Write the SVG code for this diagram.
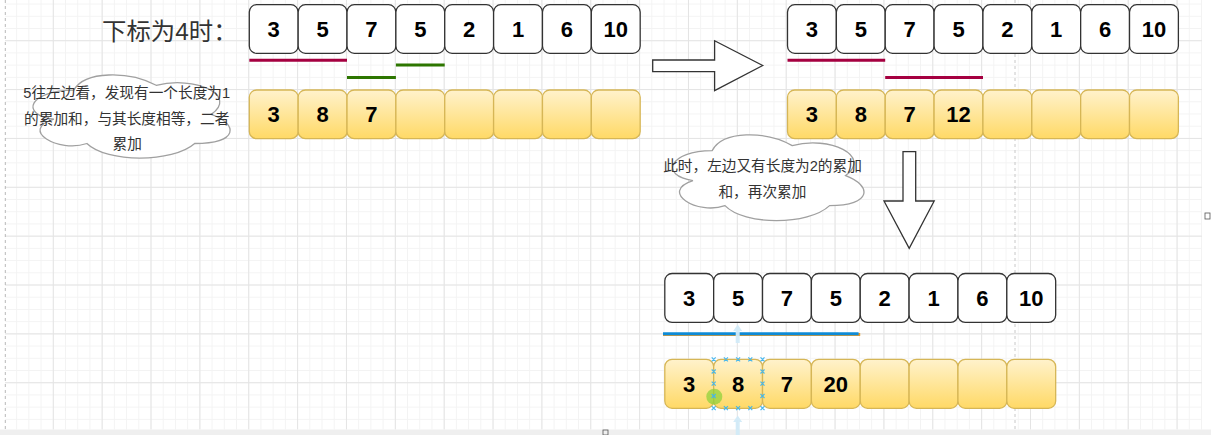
<svg xmlns="http://www.w3.org/2000/svg" width="1211" height="435" viewBox="0 0 1211 435">
<defs>
<pattern id="minor" width="12.215" height="12.215" patternUnits="userSpaceOnUse" x="3.94" y="40.22"><path d="M0 0.5H12.215M0.5 0V12.215" stroke="#f3f3f3" stroke-width="1" fill="none"/></pattern>
<pattern id="major" width="48.86" height="48.86" patternUnits="userSpaceOnUse" x="3.94" y="40.22"><path d="M0 0.5H48.86M0.5 0V48.86" stroke="#e4e4e4" stroke-width="1" fill="none"/></pattern>
<linearGradient id="yg" x1="0" y1="0" x2="0" y2="1"><stop offset="0" stop-color="#fff2cc"/><stop offset="1" stop-color="#ffd966"/></linearGradient>
<style>
.w{fill:#fff;stroke:#333;stroke-width:1.3}
.y{fill:url(#yg);stroke:#d6b656;stroke-width:1.3}
.n{font-family:"Liberation Sans",Arial,sans-serif;font-weight:bold;font-size:22px;text-anchor:middle;fill:#000}
.t{font-family:"Liberation Sans","Noto Sans CJK SC",sans-serif;font-size:14.66px;text-anchor:middle;fill:#333}
.cloud{fill:#fff;stroke:#a0a0a0;stroke-width:1.3}
.arrow{fill:#fff;stroke:#333;stroke-width:1.3}
.red{stroke:#a50040;stroke-width:3}
.green{stroke:#2d7600;stroke-width:3}
.xm{stroke:#3fb5ef;stroke-width:1.2}
</style>
</defs>
<rect x="0" y="0" width="1211" height="435" fill="#fff"/>
<rect x="5" y="0" width="1197" height="429.5" fill="url(#minor)"/>
<rect x="5" y="0" width="1197" height="429.5" fill="url(#major)"/>
<rect x="0" y="429.5" width="1211" height="5.5" fill="#efefef"/>
<line x1="5.3" y1="0" x2="5.3" y2="429.5" stroke="#b8b8b8" stroke-dasharray="3 3"/>
<line x1="1015" y1="0" x2="1015" y2="429.5" stroke="#c8c8c8" stroke-dasharray="3 3"/>
<rect x="1205" y="213" width="5" height="6" fill="none" stroke="#555" stroke-width="0.8"/>
<rect x="603" y="430" width="5" height="5" fill="none" stroke="#555" stroke-width="0.8"/>

<g id="title"><text x="102" y="39.5" font-family="'Liberation Sans','Noto Sans CJK SC',sans-serif" font-size="24.4" fill="#333">下标为4时：</text></g>

<g id="cloud1">
<path class="cloud" transform="translate(18.7 65.9) scale(220 97)" vector-effect="non-scaling-stroke" d="M0.25 0.25C0.05 0.25 0 0.5 0.16 0.55C0 0.66 0.18 0.9 0.31 0.8C0.4 1 0.7 1 0.8 0.8C1 0.8 1 0.6 0.875 0.5C1 0.3 0.8 0.1 0.625 0.2C0.5 0.05 0.3 0.05 0.25 0.25Z"/>
<text class="t" x="126.7" y="97.8">5往左边看，发现有一个长度为1</text>
<text class="t" x="126.7" y="124.4">的累加和，与其长度相等，二者</text>
<text class="t" x="127.2" y="149.3">累加</text>
</g>

<g id="cloud2">
<path class="cloud" transform="translate(658.8 125.6) scale(213.5 100)" vector-effect="non-scaling-stroke" d="M0.25 0.25C0.05 0.25 0 0.5 0.16 0.55C0 0.66 0.18 0.9 0.31 0.8C0.4 1 0.7 1 0.8 0.8C1 0.8 1 0.6 0.875 0.5C1 0.3 0.8 0.1 0.625 0.2C0.5 0.05 0.3 0.05 0.25 0.25Z"/>
<text class="t" x="762.5" y="170.6">此时，左边又有长度为2的累加</text>
<text class="t" x="762.4" y="197.3">和，再次累加</text>
</g>

<g id="row1-top">
<rect class="w" x="249.3" y="4.7" width="48.86" height="48.6" rx="7.3"/><text class="n" x="273.73" y="37">3</text>
<rect class="w" x="298.16" y="4.7" width="48.86" height="48.6" rx="7.3"/><text class="n" x="322.59" y="37">5</text>
<rect class="w" x="347.02" y="4.7" width="48.86" height="48.6" rx="7.3"/><text class="n" x="371.45" y="37">7</text>
<rect class="w" x="395.88" y="4.7" width="48.86" height="48.6" rx="7.3"/><text class="n" x="420.31" y="37">5</text>
<rect class="w" x="444.74" y="4.7" width="48.86" height="48.6" rx="7.3"/><text class="n" x="469.17" y="37">2</text>
<rect class="w" x="493.6" y="4.7" width="48.86" height="48.6" rx="7.3"/><text class="n" x="518.03" y="37">1</text>
<rect class="w" x="542.46" y="4.7" width="48.86" height="48.6" rx="7.3"/><text class="n" x="566.89" y="37">6</text>
<rect class="w" x="591.32" y="4.7" width="48.86" height="48.6" rx="7.3"/><text class="n" x="615.75" y="37">10</text>
</g>
<g id="row1-sum">
<rect class="y" x="249.3" y="90" width="48.86" height="48.7" rx="7.3"/><text class="n" x="273.73" y="122.3">3</text>
<rect class="y" x="298.16" y="90" width="48.86" height="48.7" rx="7.3"/><text class="n" x="322.59" y="122.3">8</text>
<rect class="y" x="347.02" y="90" width="48.86" height="48.7" rx="7.3"/><text class="n" x="371.45" y="122.3">7</text>
<rect class="y" x="395.88" y="90" width="48.86" height="48.7" rx="7.3"/>
<rect class="y" x="444.74" y="90" width="48.86" height="48.7" rx="7.3"/>
<rect class="y" x="493.6" y="90" width="48.86" height="48.7" rx="7.3"/>
<rect class="y" x="542.46" y="90" width="48.86" height="48.7" rx="7.3"/>
<rect class="y" x="591.32" y="90" width="48.86" height="48.7" rx="7.3"/>
</g>

<g id="row2-top">
<rect class="w" x="787.5" y="4.7" width="48.86" height="48.6" rx="7.3"/><text class="n" x="811.93" y="37">3</text>
<rect class="w" x="836.36" y="4.7" width="48.86" height="48.6" rx="7.3"/><text class="n" x="860.79" y="37">5</text>
<rect class="w" x="885.22" y="4.7" width="48.86" height="48.6" rx="7.3"/><text class="n" x="909.65" y="37">7</text>
<rect class="w" x="934.08" y="4.7" width="48.86" height="48.6" rx="7.3"/><text class="n" x="958.51" y="37">5</text>
<rect class="w" x="982.94" y="4.7" width="48.86" height="48.6" rx="7.3"/><text class="n" x="1007.37" y="37">2</text>
<rect class="w" x="1031.8" y="4.7" width="48.86" height="48.6" rx="7.3"/><text class="n" x="1056.23" y="37">1</text>
<rect class="w" x="1080.66" y="4.7" width="48.86" height="48.6" rx="7.3"/><text class="n" x="1105.09" y="37">6</text>
<rect class="w" x="1129.52" y="4.7" width="48.86" height="48.6" rx="7.3"/><text class="n" x="1153.95" y="37">10</text>
</g>
<g id="row2-sum">
<rect class="y" x="787.5" y="90" width="48.86" height="48.7" rx="7.3"/><text class="n" x="811.93" y="122.3">3</text>
<rect class="y" x="836.36" y="90" width="48.86" height="48.7" rx="7.3"/><text class="n" x="860.79" y="122.3">8</text>
<rect class="y" x="885.22" y="90" width="48.86" height="48.7" rx="7.3"/><text class="n" x="909.65" y="122.3">7</text>
<rect class="y" x="934.08" y="90" width="48.86" height="48.7" rx="7.3"/><text class="n" x="958.51" y="122.3">12</text>
<rect class="y" x="982.94" y="90" width="48.86" height="48.7" rx="7.3"/>
<rect class="y" x="1031.8" y="90" width="48.86" height="48.7" rx="7.3"/>
<rect class="y" x="1080.66" y="90" width="48.86" height="48.7" rx="7.3"/>
<rect class="y" x="1129.52" y="90" width="48.86" height="48.7" rx="7.3"/>
</g>

<g id="row3-top">
<rect class="w" x="664.8" y="273.5" width="48.86" height="48.9" rx="7.3"/><text class="n" x="689.23" y="306">3</text>
<rect class="w" x="713.66" y="273.5" width="48.86" height="48.9" rx="7.3"/><text class="n" x="738.09" y="306">5</text>
<rect class="w" x="762.52" y="273.5" width="48.86" height="48.9" rx="7.3"/><text class="n" x="786.95" y="306">7</text>
<rect class="w" x="811.38" y="273.5" width="48.86" height="48.9" rx="7.3"/><text class="n" x="835.81" y="306">5</text>
<rect class="w" x="860.24" y="273.5" width="48.86" height="48.9" rx="7.3"/><text class="n" x="884.67" y="306">2</text>
<rect class="w" x="909.1" y="273.5" width="48.86" height="48.9" rx="7.3"/><text class="n" x="933.53" y="306">1</text>
<rect class="w" x="957.96" y="273.5" width="48.86" height="48.9" rx="7.3"/><text class="n" x="982.39" y="306">6</text>
<rect class="w" x="1006.82" y="273.5" width="48.86" height="48.9" rx="7.3"/><text class="n" x="1031.25" y="306">10</text>
</g>
<g id="row3-sum">
<rect class="y" x="664.8" y="359.4" width="48.86" height="48.9" rx="7.3"/><text class="n" x="689.23" y="391.8">3</text>
<rect class="y" x="713.66" y="359.4" width="48.86" height="48.9" rx="7.3"/><text class="n" x="738.09" y="391.8">8</text>
<rect class="y" x="762.52" y="359.4" width="48.86" height="48.9" rx="7.3"/><text class="n" x="786.95" y="391.8">7</text>
<rect class="y" x="811.38" y="359.4" width="48.86" height="48.9" rx="7.3"/><text class="n" x="835.81" y="391.8">20</text>
<rect class="y" x="860.24" y="359.4" width="48.86" height="48.9" rx="7.3"/>
<rect class="y" x="909.1" y="359.4" width="48.86" height="48.9" rx="7.3"/>
<rect class="y" x="957.96" y="359.4" width="48.86" height="48.9" rx="7.3"/>
<rect class="y" x="1006.82" y="359.4" width="48.86" height="48.9" rx="7.3"/>
</g>

<g id="arrow-right"><polygon class="arrow" points="652.7,60 714.6,60 714.6,40.7 762.7,65.5 714.6,90.7 714.6,71.7 652.7,71.7"/></g>
<g id="arrow-down"><polygon class="arrow" points="903,151.7 915.7,151.7 915.7,201 934.2,201 909.2,248.3 884,201 903,201"/></g>

<g id="connectors">
<line class="red" x1="249.3" y1="60.3" x2="347" y2="60.3"/>
<line class="green" x1="347" y1="77.5" x2="395.9" y2="77.5"/>
<line class="green" x1="395.9" y1="65" x2="444.7" y2="65"/>
<line class="red" x1="787.5" y1="60.3" x2="885.2" y2="60.3"/>
<line class="red" x1="885.2" y1="77.5" x2="983" y2="77.5"/>
<line x1="663" y1="334.6" x2="860.2" y2="334.6" stroke="#e59a2a" stroke-width="3"/>
<line x1="663" y1="333.8" x2="858.6" y2="333.8" stroke="#0e8bd6" stroke-width="3"/>
</g>

<g id="selection" opacity="0.95">
<line x1="737.7" y1="330" x2="737.7" y2="343" stroke="#d2ebf8" stroke-width="4"/>
<polygon points="733.2,331 737.7,324.5 742.2,331" fill="#d2ebf8"/>
<line x1="737.7" y1="421" x2="737.7" y2="435" stroke="#d2ebf8" stroke-width="4"/>
<polygon points="733.2,422 737.7,415.5 742.2,422" fill="#d2ebf8"/>
<circle cx="714.3" cy="396.7" r="8" fill="#8cd23a" fill-opacity="0.75"/>
<path class="xm" d="M711.7 357.3l4 4m0 -4l-4 4M723.9 357.3l4 4m0 -4l-4 4M736.1 357.3l4 4m0 -4l-4 4M748.3 357.3l4 4m0 -4l-4 4M760.5 357.3l4 4m0 -4l-4 4M711.7 406.2l4 4m0 -4l-4 4M723.9 406.2l4 4m0 -4l-4 4M736.1 406.2l4 4m0 -4l-4 4M748.3 406.2l4 4m0 -4l-4 4M760.5 406.2l4 4m0 -4l-4 4M711.7 369.5l4 4m0 -4l-4 4M711.7 381.7l4 4m0 -4l-4 4M711.7 394l4 4m0 -4l-4 4M760.5 369.5l4 4m0 -4l-4 4M760.5 381.7l4 4m0 -4l-4 4M760.5 394l4 4m0 -4l-4 4"/>
</g>
</svg>
